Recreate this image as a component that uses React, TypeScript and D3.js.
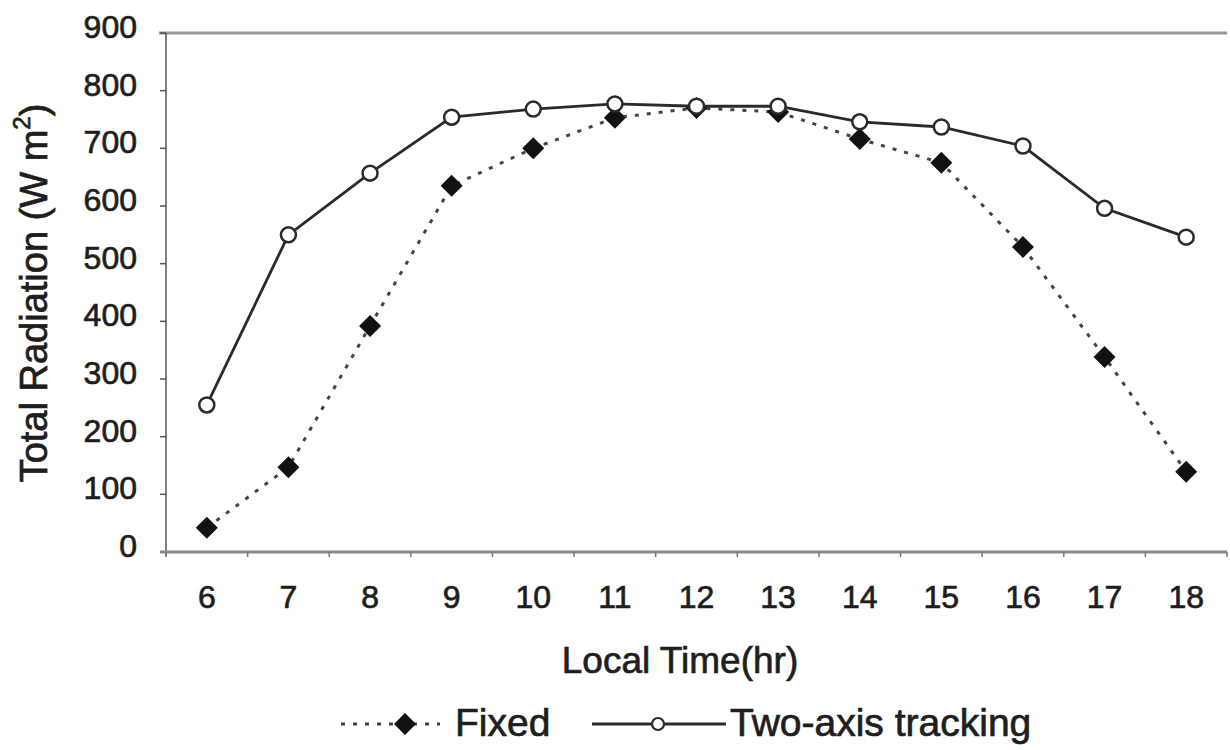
import React from "react";
import * as d3 from "d3";

// Hourly total radiation on a fixed and a two-axis tracking surface
const hours = ["6", "7", "8", "9", "10", "11", "12", "13", "14", "15", "16", "17", "18"];
const fixedValues = [42, 147, 392, 635, 700, 753, 770, 763, 716, 675, 529, 338, 139];
const trackingValues = [255, 550, 657, 754, 768, 777, 773, 773, 746, 737, 704, 596, 546];
const yTicks = [0, 100, 200, 300, 400, 500, 600, 700, 800, 900];

const W = 1230;
const H = 750;
const left = 166;
const right = 1227;
const top = 33;
const bottom = 552;
const font = "'Liberation Sans', Arial, Helvetica, sans-serif";
const ink = "#1e1e1e";
// slight outline thickens the glyphs a little
const heavy = { stroke: ink, strokeWidth: 0.7 };

export default function App() {
  const x = d3.scalePoint<string>().domain(hours).range([left, right]).padding(0.5);
  const y = d3.scaleLinear().domain([0, 900]).range([bottom, top]);
  const step = x.step();

  const line = d3
    .line<number>()
    .x((_, i) => x(hours[i]) as number)
    .y((d) => y(d));

  const diamond = (cx: number, cy: number, r: number) =>
    `M${cx},${cy - r}L${cx + r},${cy}L${cx},${cy + r}L${cx - r},${cy}Z`;

  // boundaries between hour categories carry the small x ticks
  const xTickPos = d3.range(hours.length + 1).map((i) => left + i * step);

  return (
    <svg
      width={W}
      height={H}
      style={{ position: "absolute", left: 0, top: 0, background: "#fff" }}
      fontFamily={font}
    >
      {/* top border of the plot area */}
      <line x1={left - 7} x2={right} y1={top} y2={top} stroke="#9a9a9a" strokeWidth={3} />
      {/* y axis */}
      <line x1={left} x2={left} y1={top} y2={bottom + 4} stroke="#555" strokeWidth={1.5} />
      {yTicks.map((t) => (
        <g key={t}>
          <line x1={left - 6} x2={left} y1={y(t)} y2={y(t)} stroke="#555" strokeWidth={1.5} />
          <text
            x={137}
            y={y(t) - 6}
            textAnchor="end"
            dominantBaseline="central"
            fontSize={32}
            fill={ink}
            {...heavy}
          >
            {t}
          </text>
        </g>
      ))}
      {/* x axis */}
      <line x1={left - 6} x2={right} y1={bottom} y2={bottom} stroke="#8a8a8a" strokeWidth={3} />
      {xTickPos.map((p, i) => (
        <line key={i} x1={p} x2={p} y1={bottom} y2={bottom + 5} stroke="#777" strokeWidth={1.5} />
      ))}
      {hours.map((h) => (
        <text
          key={h}
          x={x(h)}
          y={597}
          textAnchor="middle"
          dominantBaseline="central"
          fontSize={32}
          fill={ink}
          {...heavy}
        >
          {h}
        </text>
      ))}

      {/* axis titles */}
      <text
        transform={`translate(34,${293}) rotate(-90)`}
        textAnchor="middle"
        dominantBaseline="central"
        fontSize={38}
        fill={ink}
        {...heavy}
      >
        Total Radiation (W m
        <tspan dy={-13} fontSize={24}>
          2
        </tspan>
        <tspan dy={13}>)</tspan>
      </text>
      <text
        x={680}
        y={660}
        textAnchor="middle"
        dominantBaseline="central"
        fontSize={37}
        fill={ink}
        {...heavy}
      >
        Local Time(hr)
      </text>

      {/* fixed surface: dotted line with filled diamonds */}
      <path
        d={line(fixedValues) ?? ""}
        fill="none"
        stroke="#444"
        strokeWidth={3}
        strokeDasharray="4 8"
      />
      {fixedValues.map((v, i) => (
        <path key={i} d={diamond(x(hours[i]) as number, y(v), 11)} fill="#111" />
      ))}

      {/* two-axis tracking: solid line with open circles */}
      <path d={line(trackingValues) ?? ""} fill="none" stroke="#2a2a2a" strokeWidth={2.8} />
      {trackingValues.map((v, i) => (
        <circle
          key={i}
          cx={x(hours[i]) as number}
          cy={y(v)}
          r={7.5}
          fill="#fff"
          stroke="#2a2a2a"
          strokeWidth={2.5}
        />
      ))}

      {/* legend */}
      <g>
        <line x1={341} x2={440} y1={724} y2={724} stroke="#444" strokeWidth={3} strokeDasharray="4 8" />
        <path d={diamond(405, 724, 11)} fill="#111" />
        <text x={455} y={722} dominantBaseline="central" fontSize={39} fill={ink} {...heavy}>
          Fixed
        </text>
        <line x1={592} x2={726} y1={724} y2={724} stroke="#2a2a2a" strokeWidth={2.8} />
        <circle cx={658} cy={724} r={6} fill="#fff" stroke="#2a2a2a" strokeWidth={2.2} />
        <text x={730} y={722} dominantBaseline="central" fontSize={39} fill={ink} {...heavy}>
          Two-axis tracking
        </text>
      </g>
    </svg>
  );
}
